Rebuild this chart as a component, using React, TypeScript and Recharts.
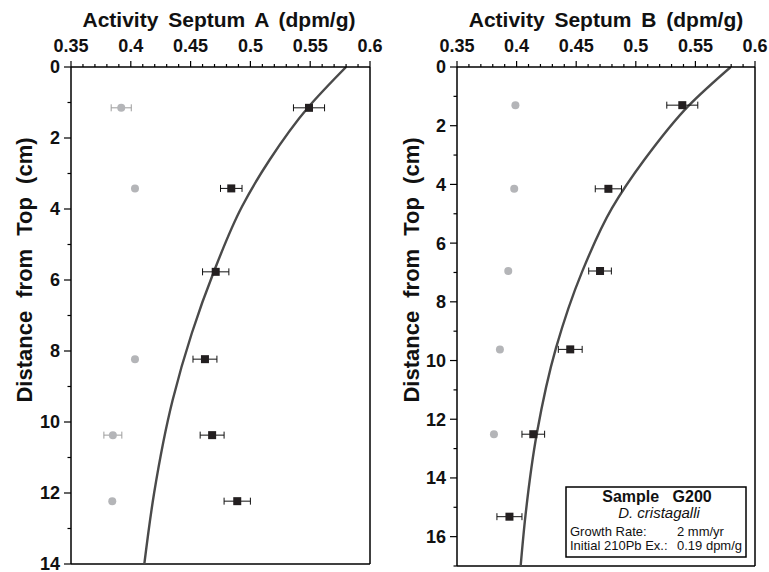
import { ComposedChart, XAxis, YAxis, Line, Scatter, ErrorBar, ReferenceLine } from 'recharts';

const FONT = '"Liberation Sans", Arial, Helvetica, sans-serif';

// activity axis (dpm/g), labelled every 0.05, small ticks every 0.01
const xMajorTicks = [0.35, 0.4, 0.45, 0.5, 0.55, 0.6];
const xMinorTicks = [
  0.36, 0.37, 0.38, 0.39, 0.41, 0.42, 0.43, 0.44, 0.46, 0.47, 0.48, 0.49,
  0.51, 0.52, 0.53, 0.54, 0.56, 0.57, 0.58, 0.59,
];

// depth axis (cm)
const yTicksA = [0, 1, 2, 3, 4, 5, 6, 7, 8, 9, 10, 11, 12, 13, 14];
const yTicksB = [0, 1, 2, 3, 4, 5, 6, 7, 8, 9, 10, 11, 12, 13, 14, 15, 16, 17];

// Septum A - measured (black squares)
const depthA = [1.15, 3.42, 5.77, 8.23, 10.37, 12.23];
const septumA = [0.549, 0.484, 0.471, 0.462, 0.468, 0.489];
const septumAErr = [0.013, 0.009, 0.011, 0.01, 0.01, 0.011];

// Septum A - grey circles
const greyDepthA = [1.15, 3.42, 8.23, 10.37, 12.23];
const greyA = [0.392, 0.4035, 0.4035, 0.385, 0.3845];
const greyAErr = [0.0084, 0, 0, 0.0075, 0];

// Septum A - model curve
const curveDepthA = [0, 1.15, 2.62, 3.93, 5.76, 7.5, 9.38, 12, 14];
const curveA = [0.58, 0.548, 0.516, 0.493, 0.4695, 0.451, 0.435, 0.4195, 0.4113];

// Septum B - measured (black squares)
const depthB = [1.3, 4.15, 6.95, 9.62, 12.51, 15.32];
const septumB = [0.539, 0.477, 0.47, 0.445, 0.414, 0.394];
const septumBErr = [0.013, 0.011, 0.0095, 0.01, 0.0095, 0.0105];

// Septum B - grey circles
const greyDepthB = [1.3, 4.15, 6.95, 9.62, 12.51];
const greyB = [0.399, 0.398, 0.393, 0.386, 0.381];

// Septum B - model curve
const curveDepthB = [0, 1.29, 3.17, 4.81, 6.97, 9.58, 12.48, 15.26, 17];
const curveB = [0.5796, 0.545, 0.507, 0.48, 0.455, 0.433, 0.417, 0.4075, 0.4034];

type Pt = { d: number; a: number; err?: number };

const zip = (ds: number[], as: number[], errs?: number[]): Pt[] =>
  ds.map((d, i) => ({ d, a: as[i], err: errs ? errs[i] : 0 }));

const isMajorX = (v: number) => xMajorTicks.some((t) => Math.abs(t - v) < 1e-9);

const TopTick = (props: any) => {
  const { x, y, payload } = props;
  const major = isMajorX(payload.value);
  return (
    <g>
      <line x1={x} x2={x} y1={y} y2={y - (major ? 6 : 3)} stroke="#000" strokeWidth={1.2} />
      {major && (
        <text x={x} y={y - 15} textAnchor="middle" fontSize={18} fontWeight="bold" fill="#111" fontFamily={FONT}>
          {String(payload.value)}
        </text>
      )}
    </g>
  );
};

const LeftTick = (props: any) => {
  const { x, y, payload } = props;
  const major = payload.value % 2 === 0;
  return (
    <g>
      <line x1={x} x2={x - (major ? 7 : 3.5)} y1={y} y2={y} stroke="#000" strokeWidth={1.2} />
      {major && (
        <text x={x - 11} y={y} dy="0.36em" textAnchor="end" fontSize={18} fontWeight="bold" fill="#111" fontFamily={FONT}>
          {String(payload.value)}
        </text>
      )}
    </g>
  );
};

const SquareDot = (p: any) => <rect x={p.cx - 4} y={p.cy - 4} width={8} height={8} fill="#231f20" />;
const GreyDot = (p: any) => <circle cx={p.cx} cy={p.cy} r={4} fill="#b4b5b8" />;

interface PanelProps {
  left: number;
  width: number;
  margin: { top: number; right: number; bottom: number; left: number };
  yWidth: number;
  yMax: number;
  yTicks: number[];
  squares: Pt[];
  greys: Pt[];
  curve: Pt[];
}

function Panel({ left, width, margin, yWidth, yMax, yTicks, squares, greys, curve }: PanelProps) {
  const greyWithErr = greys.filter((p) => p.err && p.err > 0);
  const greyNoErr = greys.filter((p) => !p.err);
  return (
    <div style={{ position: 'absolute', left, top: 0 }}>
      <ComposedChart width={width} height={572} layout="vertical" margin={margin}>
        <XAxis
          type="number"
          dataKey="a"
          orientation="top"
          domain={[0.35, 0.6]}
          ticks={[...xMajorTicks, ...xMinorTicks].sort((p, q) => p - q)}
          interval={0}
          height={30}
          allowDataOverflow
          tickLine={false}
          tickSize={0}
          tickMargin={0}
          tick={<TopTick />}
          axisLine={{ stroke: '#000', strokeWidth: 1.5 }}
        />
        <YAxis
          type="number"
          dataKey="d"
          domain={[0, yMax]}
          ticks={yTicks}
          interval={0}
          width={yWidth}
          allowDataOverflow
          tickLine={false}
          tickSize={0}
          tickMargin={0}
          tick={<LeftTick />}
          axisLine={{ stroke: '#000', strokeWidth: 1.5 }}
        />
        <ReferenceLine x={0.6} stroke="#000" strokeWidth={1.5} ifOverflow="visible" />
        <ReferenceLine y={yMax} stroke="#000" strokeWidth={1.5} ifOverflow="visible" />
        <Line
          data={curve}
          dataKey="a"
          type="monotoneY"
          stroke="#4a4a4a"
          strokeWidth={2.4}
          dot={false}
          activeDot={false}
          isAnimationActive={false}
        />
        <Scatter data={greyWithErr} dataKey="a" shape={GreyDot} isAnimationActive={false}>
          <ErrorBar dataKey="err" direction="x" width={3.5} stroke="#9d9d9d" strokeWidth={1} />
        </Scatter>
        <Scatter data={greyNoErr} dataKey="a" shape={GreyDot} isAnimationActive={false} />
        <Scatter data={squares} dataKey="a" shape={SquareDot} isAnimationActive={false}>
          <ErrorBar dataKey="err" direction="x" width={3.5} stroke="#111" strokeWidth={1} />
        </Scatter>
      </ComposedChart>
    </div>
  );
}

export default function App() {
  const titleStyle = { fontSize: 21, fontWeight: 'bold' as const, fill: '#111', wordSpacing: 4 };
  const yLabelStyle = { fontSize: 22, fontWeight: 'bold' as const, fill: '#111', wordSpacing: 7 };
  return (
    <div style={{ position: 'absolute', left: 0, top: 0, width: 769, height: 572, background: '#fff', fontFamily: FONT }}>
      <Panel
        left={0}
        width={385}
        margin={{ top: 37, right: 15, bottom: 8, left: 0 }}
        yWidth={71}
        yMax={14}
        yTicks={yTicksA}
        squares={zip(depthA, septumA, septumAErr)}
        greys={zip(greyDepthA, greyA, greyAErr)}
        curve={zip(curveDepthA, curveA)}
      />
      <Panel
        left={385}
        width={384}
        margin={{ top: 37, right: 14, bottom: 6, left: 0 }}
        yWidth={72}
        yMax={17}
        yTicks={yTicksB}
        squares={zip(depthB, septumB, septumBErr)}
        greys={zip(greyDepthB, greyB)}
        curve={zip(curveDepthB, curveB)}
      />
      <svg width={769} height={572} style={{ position: 'absolute', left: 0, top: 0, pointerEvents: 'none' }}>
        <text x={219} y={27} textAnchor="middle" style={titleStyle}>Activity Septum A (dpm/g)</text>
        <text x={606} y={27} textAnchor="middle" style={titleStyle}>Activity Septum B (dpm/g)</text>
        <text transform="translate(32,270) rotate(-90)" textAnchor="middle" style={yLabelStyle}>
          Distance from Top (cm)
        </text>
        <text transform="translate(419,270) rotate(-90)" textAnchor="middle" style={yLabelStyle}>
          Distance from Top (cm)
        </text>
        <rect x={566} y={487} width={180} height={70} fill="#fff" stroke="#000" strokeWidth={1.5} />
        <text x={657} y={502} textAnchor="middle" fontSize={16} fontWeight="bold" fill="#111" style={{ whiteSpace: 'pre' }}>
          {'Sample   G200'}
        </text>
        <text x={659} y={518} textAnchor="middle" fontSize={15} fontStyle="italic" fill="#111">
          D. cristagalli
        </text>
        <text x={570} y={536} fontSize={13} fill="#111">Growth Rate:</text>
        <text x={677} y={536} fontSize={13} fill="#111">2 mm/yr</text>
        <text x={570} y={550} fontSize={13} fill="#111">Initial 210Pb Ex.:</text>
        <text x={677} y={550} fontSize={13} fill="#111">0.19 dpm/g</text>
      </svg>
    </div>
  );
}
